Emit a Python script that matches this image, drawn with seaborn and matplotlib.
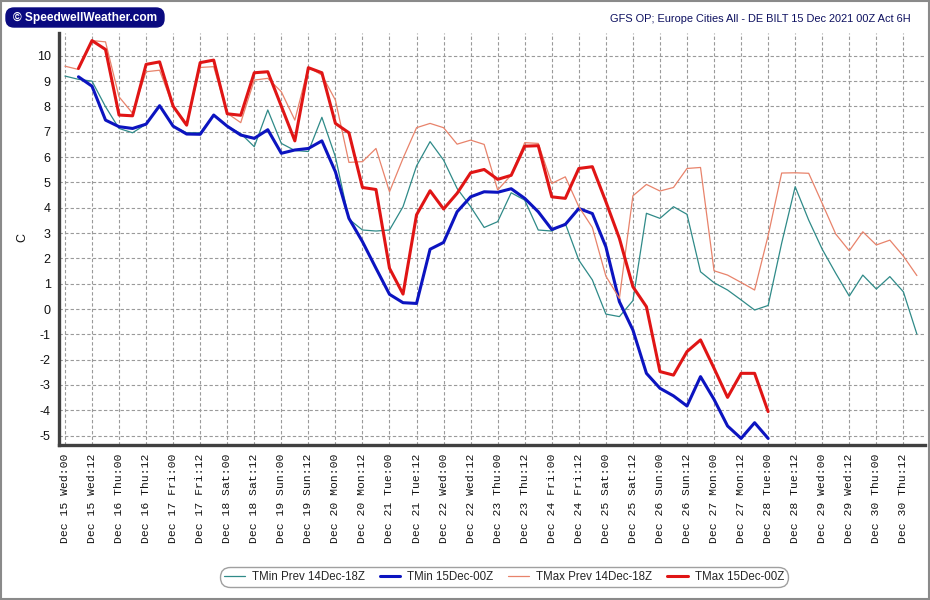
import numpy as np
import pandas as pd
import matplotlib
matplotlib.use("Agg")
import matplotlib.pyplot as plt
from matplotlib.patches import Rectangle, FancyBboxPatch
from matplotlib.lines import Line2D
from matplotlib.transforms import IdentityTransform
import seaborn as sns

# ---------------- data (6-hourly steps from Dec 15 00Z) ----------------
tmin_prev = [9.20, 9.07, 9.00, 7.99, 7.13, 6.96, 7.30, 8.02, 7.22, 6.96,
             6.96, 7.66, 7.22, 6.93, 6.41, 7.86, 6.54, 6.26, 6.22, 7.57,
             6.01, 3.55, 3.12, 3.08, 3.12, 4.04, 5.65, 6.61, 5.88, 4.76,
             4.04, 3.22, 3.45, 4.59, 4.30, 3.12, 3.08, 3.38, 1.93, 1.15,
             -0.20, -0.30, 0.33, 3.78, 3.58, 4.04, 3.74, 1.47, 1.04, 0.75,
             0.36, -0.04, 0.14, 2.60, 4.83, 3.51, 2.36, 1.41, 0.51, 1.34,
             0.79, 1.28, 0.68, -0.99]
tmin_new = [9.17, 8.80, 7.46, 7.20, 7.13, 7.30, 8.03, 7.22, 6.91, 6.90,
            7.66, 7.22, 6.87, 6.74, 7.08, 6.15, 6.28, 6.34, 6.64, 5.42,
            3.58, 2.66, 1.61, 0.58, 0.25, 0.22, 2.36, 2.63, 3.84, 4.43,
            4.63, 4.61, 4.75, 4.37, 3.84, 3.14, 3.34, 3.97, 3.77, 2.46,
            0.29, -0.83, -2.54, -3.13, -3.43, -3.83, -2.67, -3.57, -4.62, -5.11,
            -4.49, -5.11]
tmax_prev = [9.59, 9.46, 10.60, 10.55, 8.38, 7.73, 9.37, 9.43, 7.99, 7.33,
             9.54, 9.57, 7.73, 7.36, 9.04, 9.11, 8.58, 7.46, 9.55, 9.24,
             8.25, 5.79, 5.82, 6.34, 4.63, 5.95, 7.16, 7.33, 7.16, 6.51,
             6.67, 6.50, 4.70, 5.29, 6.57, 6.54, 4.96, 5.22, 4.04, 3.22,
             1.30, 0.42, 4.47, 4.92, 4.66, 4.80, 5.55, 5.59, 1.51, 1.34,
             1.05, 0.75, 2.90, 5.37, 5.38, 5.36, 4.17, 2.96, 2.30, 3.05,
             2.53, 2.72, 2.09, 1.32]
tmax_new = [9.50, 10.60, 10.25, 7.66, 7.63, 9.66, 9.76, 8.01, 7.26, 9.73,
            9.83, 7.71, 7.65, 9.33, 9.37, 8.01, 6.64, 9.53, 9.33, 7.33,
            6.96, 4.80, 4.72, 1.61, 0.59, 3.72, 4.67, 3.95, 4.57, 5.38,
            5.51, 5.12, 5.28, 6.43, 6.45, 4.43, 4.37, 5.55, 5.62, 4.24,
            2.79, 0.88, 0.09, -2.47, -2.61, -1.68, -1.22, -2.34, -3.49, -2.54,
            -2.54, -4.05]

tick_labels = ["Dec 15 Wed:00", "Dec 15 Wed:12", "Dec 16 Thu:00", "Dec 16 Thu:12",
               "Dec 17 Fri:00", "Dec 17 Fri:12", "Dec 18 Sat:00", "Dec 18 Sat:12",
               "Dec 19 Sun:00", "Dec 19 Sun:12", "Dec 20 Mon:00", "Dec 20 Mon:12",
               "Dec 21 Tue:00", "Dec 21 Tue:12", "Dec 22 Wed:00", "Dec 22 Wed:12",
               "Dec 23 Thu:00", "Dec 23 Thu:12", "Dec 24 Fri:00", "Dec 24 Fri:12",
               "Dec 25 Sat:00", "Dec 25 Sat:12", "Dec 26 Sun:00", "Dec 26 Sun:12",
               "Dec 27 Mon:00", "Dec 27 Mon:12", "Dec 28 Tue:00", "Dec 28 Tue:12",
               "Dec 29 Wed:00", "Dec 29 Wed:12", "Dec 30 Thu:00", "Dec 30 Thu:12"]

series_names = ["TMin Prev 14Dec-18Z", "TMin 15Dec-00Z",
                "TMax Prev 14Dec-18Z", "TMax 15Dec-00Z"]
series_start = [0, 1, 0, 1]          # first 6h step index of each series
series_values = [tmin_prev, tmin_new, tmax_prev, tmax_new]
series_colors = ["#2f8a88", "#0c14c0", "#e8836b", "#e01515"]
series_widths = [0.9, 2.2, 0.9, 2.2]

rows = []
for name, start, vals in zip(series_names, series_start, series_values):
    for i, v in enumerate(vals):
        rows.append({"hour": (start + i) * 6, "temp": v, "series": name})
df = pd.DataFrame(rows)

# ---------------- figure ----------------
sns.set_theme(style="white")
plt.rcParams["font.family"] = ["Liberation Sans", "DejaVu Sans"]

fig = plt.figure(figsize=(9.3, 6.0), dpi=100)
ax = fig.add_axes([59 / 930, 1 - 445 / 600, (925 - 59) / 930, (445 - 33) / 600])

for name, col, lw in zip(series_names, series_colors, series_widths):
    sns.lineplot(data=df[df["series"] == name], x="hour", y="temp", ax=ax,
                 color=col, linewidth=lw, legend=False, zorder=3)

ax.set_xlim(-2.64, 381.6)
ax.set_ylim(-5.37, 10.9)

ax.set_xticks(np.arange(len(tick_labels)) * 12)
ax.set_xticklabels(tick_labels, rotation=90, family="Liberation Mono",
                   fontsize=8.2, color="#111111")
ax.set_xticks(np.arange(0, 382, 6), minor=True)
ax.set_yticks(np.arange(-5, 11, 1))
ax.set_yticklabels([str(v) for v in range(-5, 11)], fontsize=9, color="#111111")
ax.set_yticks(np.arange(-5.25, 10.9, 0.25), minor=True)
ax.tick_params(axis="both", which="major", length=3, width=0.8, color="#555555", pad=3)
ax.tick_params(axis="both", which="minor", length=2, width=0.6, color="#777777")

ax.grid(True, which="major", color="#9a9a9a", linestyle=(0, (3, 2)), linewidth=0.8)
ax.set_axisbelow(True)
for s in ["top", "right"]:
    ax.spines[s].set_visible(False)
for s in ["left", "bottom"]:
    ax.spines[s].set_color("#404040")
    ax.spines[s].set_linewidth(2.4)

ax.set_xlabel("")
ax.set_ylabel("")
fig.text(22 / 930, 1 - 237 / 600, "C", rotation=90, ha="center", va="center",
         fontsize=9, color="#111111")

# title
fig.text(911 / 930, 1 - 19 / 600,
         "GFS OP; Europe Cities All - DE BILT 15 Dec 2021 00Z Act 6H",
         ha="right", va="center", fontsize=7.9, color="#0d1060")

# logo
fig.patches.append(FancyBboxPatch((6, 600 - 27), 158, 19,
                                  boxstyle="round,pad=0,rounding_size=8",
                                  transform=IdentityTransform(),
                                  facecolor="#0a0a80", edgecolor="#0a0a80"))
fig.text(85 / 930, 1 - 18 / 600, "\u00a9 SpeedwellWeather.com", ha="center",
         va="center", fontsize=8.6, fontweight="bold", color="white")

# legend
handles = [Line2D([0], [0], color=c, linewidth=w) for c, w in zip(series_colors, series_widths)]
leg = fig.legend(handles, series_names, loc="center", bbox_to_anchor=(504 / 930, 1 - 577 / 600),
                 ncol=4, fontsize=8.3, frameon=True, fancybox=True, handlelength=1.8,
                 handletextpad=0.6, columnspacing=1.3, borderpad=0.2)
leg.get_frame().set_edgecolor("#888888")
leg.get_frame().set_linewidth(1.0)
leg.get_frame().set_boxstyle("round", pad=0.15, rounding_size=0.9)

# figure border
fig.patches.append(Rectangle((0.001, 0.001), 0.998, 0.997, transform=fig.transFigure,
                             fill=False, edgecolor="#8a8a8a", linewidth=1.5))

fig.savefig("out.png", dpi=100)
